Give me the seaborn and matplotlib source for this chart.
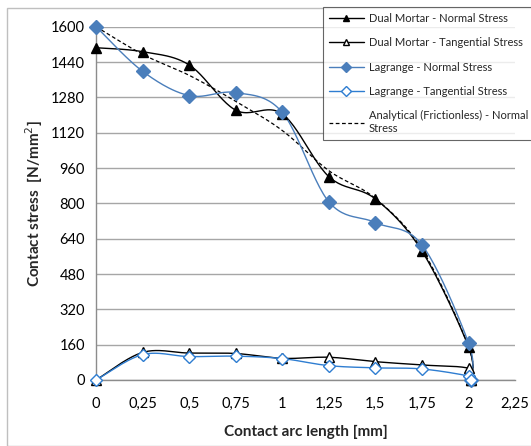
import numpy as np
import pandas as pd
import matplotlib
matplotlib.use("Agg")
import matplotlib.pyplot as plt
from matplotlib.lines import Line2D
from matplotlib.patches import Rectangle
import seaborn as sns

# === data ===
x_pos = [0, 0.25, 0.5, 0.75, 1.0, 1.25, 1.5, 1.75, 2.0, 2.015]
dm_normal = [1505, 1487, 1427, 1222, 1205, 921, 820, 584, 150, 0]
dm_tangential = [0, 125, 122, 120, 98, 103, 83, 68, 53, 0]
lag_normal = [1600, 1398, 1288, 1302, 1212, 807, 713, 612, 168, 0]
lag_tangential = [0, 115, 106, 108, 97, 65, 55, 50, 18, 0]
analytical = [1600, 1475, 1380, 1262, 1130, 948, 822, 592, 152, 0]

y_ticks = list(range(0, 1601, 160))
x_ticks = [0, 0.25, 0.5, 0.75, 1, 1.25, 1.5, 1.75, 2, 2.25]
x_ticklabels = ["0", "0,25", "0,5", "0,75", "1", "1,25", "1,5", "1,75", "2", "2,25"]


def smooth(xs, ys, n=25):
    # Catmull-Rom curve through the points (like Excel "smoothed line")
    pts = np.column_stack([xs, ys]).astype(float)
    pad = np.vstack([pts[0], pts, pts[-1]])
    t = np.linspace(0, 1, n, endpoint=False)[:, None]
    segs = []
    for i in range(len(pts) - 1):
        p0, p1, p2, p3 = pad[i:i + 4]
        segs.append(0.5 * (2 * p1 + (-p0 + p2) * t
                           + (2 * p0 - 5 * p1 + 4 * p2 - p3) * t ** 2
                           + (-p0 + 3 * p1 - 3 * p2 + p3) * t ** 3))
    segs.append(pts[-1:])
    s = np.vstack(segs)
    return pd.DataFrame({"x": s[:, 0], "y": s[:, 1]})


sns.set_style("white")
plt.rcParams["font.family"] = ["Lato", "DejaVu Sans"]

fig = plt.figure(figsize=(5.31, 4.46), dpi=100)
ax = fig.add_axes([0.181, 0.148, 0.789, 0.792])

series = [
    ("Dual Mortar - Normal Stress", dm_normal, "black", "^", "black", 7.5),
    ("Dual Mortar - Tangential Stress", dm_tangential, "black", "^", "white", 7.5),
    ("Lagrange - Normal Stress", lag_normal, "#4a7ebb", "D", "#4a7ebb", 7),
    ("Lagrange - Tangential Stress", lag_tangential, "#2e7dd1", "D", "white", 6.5),
]

# analytical curve first (dashed, no markers)
sm = smooth(x_pos, analytical)
sns.lineplot(data=sm, x="x", y="y", sort=False, estimator=None, ax=ax,
             color="black", linestyle=(0, (3, 2)), linewidth=0.9, zorder=3)

handles = []
for name, vals, col, mk, fc, ms in series:
    sm = smooth(x_pos, vals)
    sns.lineplot(data=sm, x="x", y="y", sort=False, estimator=None, ax=ax,
                 color=col, linewidth=1.0, zorder=4)
    ax.plot(x_pos, vals, linestyle="none", marker=mk, markersize=ms,
            markerfacecolor=fc, markeredgecolor=col, markeredgewidth=1.0,
            zorder=5, clip_on=False)
    handles.append(Line2D([], [], color=col, linewidth=1.0, marker=mk,
                          markersize=5, markerfacecolor=fc, markeredgecolor=col))

handles.append(Line2D([], [], color="black", linestyle=(0, (3, 2)), linewidth=0.9))
labels = [s[0] for s in series] + ["Analytical (Frictionless) - Normal\nStress"]

ax.set_xlim(0, 2.25)
ax.set_ylim(0, 1600)
ax.set_xticks(x_ticks)
ax.set_xticklabels(x_ticklabels)
ax.set_yticks(y_ticks)
ax.tick_params(axis="both", length=0, labelsize=10.5, colors="black")
ax.tick_params(axis="x", pad=12)
ax.tick_params(axis="y", pad=8)
ax.yaxis.grid(True, color="#a6a6a6", linewidth=1.0)
ax.xaxis.grid(False)
for side in ["top", "right"]:
    ax.spines[side].set_visible(False)
for side in ["left", "bottom"]:
    ax.spines[side].set_color("#8c8c8c")
    ax.spines[side].set_linewidth(1.0)

ax.set_xlabel("Contact arc length [mm]", fontsize=11, fontweight="bold", labelpad=10)
ax.set_ylabel("Contact stress  [N/mm$^2$]", fontsize=11, fontweight="bold", labelpad=4)

leg = fig.legend(handles, labels, loc="upper left", bbox_to_anchor=(0.598, 0.996),
                 fontsize=8, frameon=True, fancybox=False, handlelength=3.2,
                 labelspacing=1.2, borderpad=0.5, handletextpad=0.4)
leg.get_frame().set_edgecolor("#404040")
leg.get_frame().set_linewidth(0.8)
leg.set_zorder(10)

# outer chart border
fig.patches.append(Rectangle((0.013, 0.0), 1.2, 0.982, transform=fig.transFigure,
                             fill=False, edgecolor="#bfbfbf", linewidth=1.0))

fig.savefig("out.png", dpi=100)
